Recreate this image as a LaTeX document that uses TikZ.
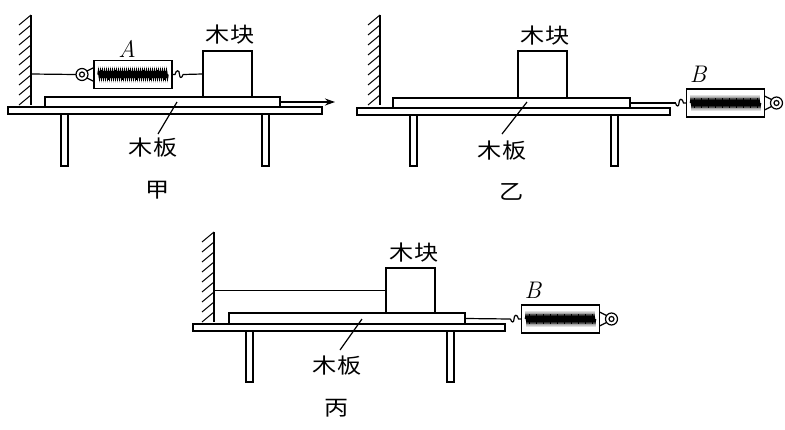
\documentclass[tikz,border=0pt]{standalone}
\usepackage{fontspec}
\newfontfamily\cjk[FakeStretch=1.15]{Noto Sans CJK SC}
\usetikzlibrary{arrows.meta,decorations.pathmorphing}
\tikzset{
  ln/.style={line width=1.2pt},
  box/.style={draw,line width=1.2pt,inner sep=0pt,fill=white},
  cjklabel/.style={font=\cjk\fontsize{21}{21}\selectfont,inner sep=0pt},
  latlabel/.style={font=\fontsize{24}{24}\selectfont\itshape,inner sep=0pt},
  springscale/.pic={
    \draw[ln,fill=white] (-39,-14) rectangle (39,14);
    \draw[ln] (-46,-3.5) -- (-39,-7) (-46,3.5) -- (-39,7);
    \draw[ln,fill=white] (-51,0) circle (6);
    \draw[ln] (-51,0) circle (2.5);
    \draw[line width=2.6pt] (-34,0) -- (34,0);
    \draw[line width=1.6pt,decorate,decoration={zigzag,segment length=2pt,amplitude=3pt}] (-35,0) -- (35,0);
    \foreach \tk in {-32,-25,...,33} \draw[line width=0.7pt] (\tk,-5) -- (\tk,5);
    \draw[ln] (39,0) -- (42,0) .. controls (43,-5) and (46.5,-5) .. (46.5,0) .. controls (46.5,4) and (49,4) .. (50,0);
    \coordinate (-ring) at (-57,0);
    \coordinate (-hook) at (50,0);
  }
}
\newcommand\mywall[3]{%
  \draw[ln] (#1,#2) -- (#1,#3);
  \pgfmathtruncatemacro\nhatch{(#3-#2)/10-1}
  \foreach \ii in {0,...,\nhatch} \draw[line width=1pt] (#1-12,#2+10*\ii+10) -- (#1,#2+10*\ii);
}
\newcommand\mytable[4]{% left x, top y, right x, leg bottom
  \draw[ln,fill=white] (#1,#2) rectangle (#3,#2+7);
  \draw[ln,fill=white] (#1+53,#2+7) rectangle (#1+60,#4);
  \draw[ln,fill=white] (#1+254,#2+7) rectangle (#1+261,#4);
}
\begin{document}
\begin{tikzpicture}[x=1pt,y=-1pt]
\useasboundingbox (0,0) rectangle (785,429);

% ===== 甲 =====
\mywall{31}{15}{105}
\coordinate (w1) at (31,74);
\mytable{8}{107}{322}{166}
\node[box,minimum width=235pt,minimum height=10pt] (board1) at (162.5,102) {};
\node[box,minimum width=49pt,minimum height=46pt] (block1) at (227.5,74) {};
\pic (sA) at (133,74.5) {springscale};
\draw[ln] (w1) -- (sA-ring);
\draw[ln] (sA-hook) -- (block1.west);
\coordinate (arr1) at (335,102);
\draw[ln,-{Stealth[length=10pt,width=7pt]}] (board1.east) -- (arr1);
\node[cjklabel] (kuai1) at (230,35) {木块};
\node[latlabel] (labA) at (127,49) {A};
\node[cjklabel] (ban1) at (153,148) {木板};
\coordinate (p1) at (158,134);
\coordinate (q1) at (177,102);
\draw[ln] (p1) -- (q1);
\node[cjklabel] (cap1) at (158,190) {甲};

% ===== 乙 =====
\mywall{380}{15}{105}
\mytable{357}{108}{670}{166}
\node[box,minimum width=237pt,minimum height=10pt] (board2) at (511.5,103) {};
\node[box,minimum width=49pt,minimum height=47pt] (block2) at (542.5,74.5) {};
\pic[xscale=-1] (sB1) at (725.5,103) {springscale};
\draw[ln] (board2.east) -- (sB1-hook);
\node[cjklabel] (kuai2) at (545,36) {木块};
\node[latlabel] (labB1) at (698,74) {B};
\node[cjklabel] (ban2) at (502,151) {木板};
\coordinate (p2) at (502,134);
\coordinate (q2) at (527,102);
\draw[ln] (p2) -- (q2);
\node[cjklabel] (cap2) at (512,192) {乙};

% ===== 丙 =====
\mywall{214}{232}{322}
\coordinate (w3) at (214,290.5);
\mytable{193}{324}{505}{382}
\node[box,minimum width=236pt,minimum height=11pt] (board3) at (347,318.5) {};
\node[box,minimum width=49pt,minimum height=45pt] (block3) at (410.5,290.5) {};
\draw[ln] (w3) -- (block3.west);
\pic[xscale=-1] (sB2) at (560.5,319) {springscale};
\draw[ln] (board3.east) -- (sB2-hook);
\node[cjklabel] (kuai3) at (414,253) {木块};
\node[latlabel] (labB2) at (533,290) {B};
\node[cjklabel] (ban3) at (337,366) {木板};
\coordinate (p3) at (340,350);
\coordinate (q3) at (362,319);
\draw[ln] (p3) -- (q3);
\node[cjklabel] (cap3) at (337,408) {丙};
\end{tikzpicture}
\end{document}
